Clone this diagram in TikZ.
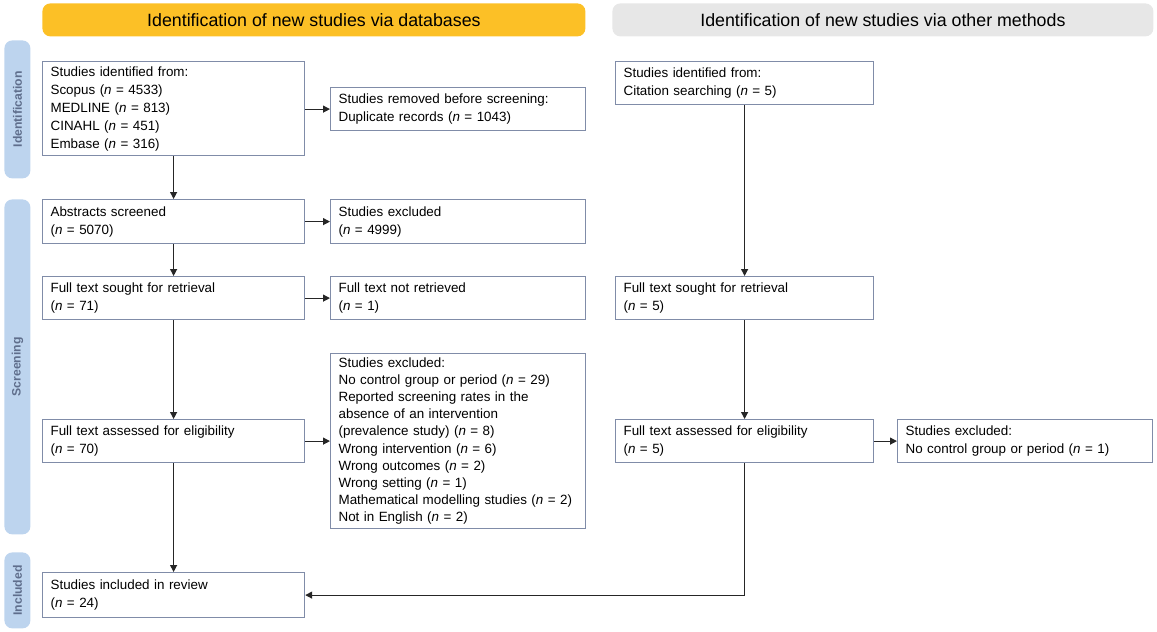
\documentclass[tikz,border=0pt]{standalone}
\usepackage{fontspec}
\setmainfont{Liberation Sans}
\usetikzlibrary{arrows.meta,positioning,calc}
\definecolor{amarillo}{RGB}{252,192,38}
\definecolor{grisclaro}{RGB}{231,231,231}
\definecolor{azulfase}{RGB}{189,212,238}
\definecolor{textofase}{RGB}{95,110,140}
\definecolor{borde}{RGB}{128,140,168}
\newcommand{\nval}[1]{(\textit{n} = #1)}
\tikzset{
  cab/.style={rounded corners=4pt,anchor=north west,inner sep=0pt,
              font=\fontsize{8.9}{10}\selectfont},
  fase/.style={fill=azulfase,rounded corners=4pt,anchor=north west,inner sep=0pt,
               minimum width=13pt},
  fasetxt/.style={rotate=90,text=textofase,font=\fontsize{6.1}{7}\selectfont\bfseries},
  caja/.style={draw=borde,line width=0.6pt,anchor=north west,align=left,
               inner xsep=4pt,inner ysep=2pt,font=\fontsize{6.7}{9}\selectfont},
  paso/.style={-{Triangle[length=3.5pt,width=3.5pt]},line width=0.6pt,black!85},
}
\begin{document}
\begin{tikzpicture}[x=0.5pt,y=-0.5pt]
  \useasboundingbox (0,0) rectangle (1157,632);
  % cabeceras
  \node[cab,fill=amarillo,minimum width=271.5pt,minimum height=16.5pt] (hdb) at (42,3) {Identification of new studies via databases};
  \node[cab,fill=grisclaro,minimum width=270.5pt,minimum height=16.5pt] (hot) at (612,3) {Identification of new studies via other methods};
  % fases
  \node[fase,minimum height=69pt] (fid) at (4,40) {};
  \node[fasetxt] at (fid.center) {Identification};
  \node[fase,minimum height=167.5pt] (fsc) at (4,199) {};
  \node[fasetxt] at (fsc.center) {Screening};
  \node[fase,minimum height=38pt] (fin) at (4,552) {};
  \node[fasetxt] at (fin.center) {Included};
  % columna de bases de datos
  \node[caja,minimum width=131pt,minimum height=47pt,text width=123pt] (ida) at (42,61)
    {Studies identified from:\\ Scopus \nval{4533}\\ MEDLINE \nval{813}\\ CINAHL \nval{451}\\ Embase \nval{316}};
  \node[caja,minimum width=127.5pt,minimum height=21.5pt,text width=119.5pt] (rem) at (330,87)
    {Studies removed before screening:\\ Duplicate records \nval{1043}};
  \node[caja,minimum width=131pt,minimum height=22pt,text width=123pt] (abs) at (42,199)
    {Abstracts screened\\ \nval{5070}};
  \node[caja,minimum width=127.5pt,minimum height=22pt,text width=119.5pt] (exa) at (330,199)
    {Studies excluded\\ \nval{4999}};
  \node[caja,minimum width=131pt,minimum height=21.5pt,text width=123pt] (sol) at (42,276)
    {Full text sought for retrieval\\ \nval{71}};
  \node[caja,minimum width=127.5pt,minimum height=21.5pt,text width=119.5pt] (nor) at (330,276)
    {Full text not retrieved\\ \nval{1}};
  \node[caja,minimum width=131pt,minimum height=21.5pt,text width=123pt] (ev) at (42,419)
    {Full text assessed for eligibility\\ \nval{70}};
  \node[caja,minimum width=127.5pt,minimum height=87.5pt,text width=119.5pt,inner ysep=0.5pt,
        font=\fontsize{6.7}{8.6}\selectfont] (exb) at (330,353)
    {Studies excluded:\\ No control group or period \nval{29}\\ Reported screening rates in the\\ absence of an intervention\\ (prevalence study) \nval{8}\\ Wrong intervention \nval{6}\\ Wrong outcomes \nval{2}\\ Wrong setting \nval{1}\\ Mathematical modelling studies \nval{2}\\ Not in English \nval{2}};
  \node[caja,minimum width=131pt,minimum height=22.5pt,text width=123pt] (inc) at (42,572)
    {Studies included in review\\ \nval{24}};
  % otros métodos
  \node[caja,minimum width=129pt,minimum height=21.5pt,text width=121pt] (idb) at (615,61)
    {Studies identified from:\\ Citation searching \nval{5}};
  \node[caja,minimum width=129pt,minimum height=21.5pt,text width=121pt] (solb) at (615,276)
    {Full text sought for retrieval\\ \nval{5}};
  \node[caja,minimum width=129pt,minimum height=21.5pt,text width=121pt] (evb) at (615,419)
    {Full text assessed for eligibility\\ \nval{5}};
  \node[caja,minimum width=127.5pt,minimum height=21.5pt,text width=119.5pt] (exc) at (897,419)
    {Studies excluded:\\ No control group or period \nval{1}};
  % flechas
  \draw[paso] (ida) -- (abs);
  \draw[paso] (abs) -- (sol);
  \draw[paso] (sol) -- (ev);
  \draw[paso] (ev) -- (inc);
  \draw[paso] (ida.east |- rem.west) -- (rem.west);
  \draw[paso] (abs) -- (exa);
  \draw[paso] (sol) -- (nor);
  \draw[paso] (ev.east) -- (ev.east -| exb.west);
  \draw[paso] (idb) -- (solb);
  \draw[paso] (solb) -- (evb);
  \draw[paso] (evb) -- (exc);
  \draw[paso] (evb.south) |- (inc.east);
\end{tikzpicture}
\end{document}
